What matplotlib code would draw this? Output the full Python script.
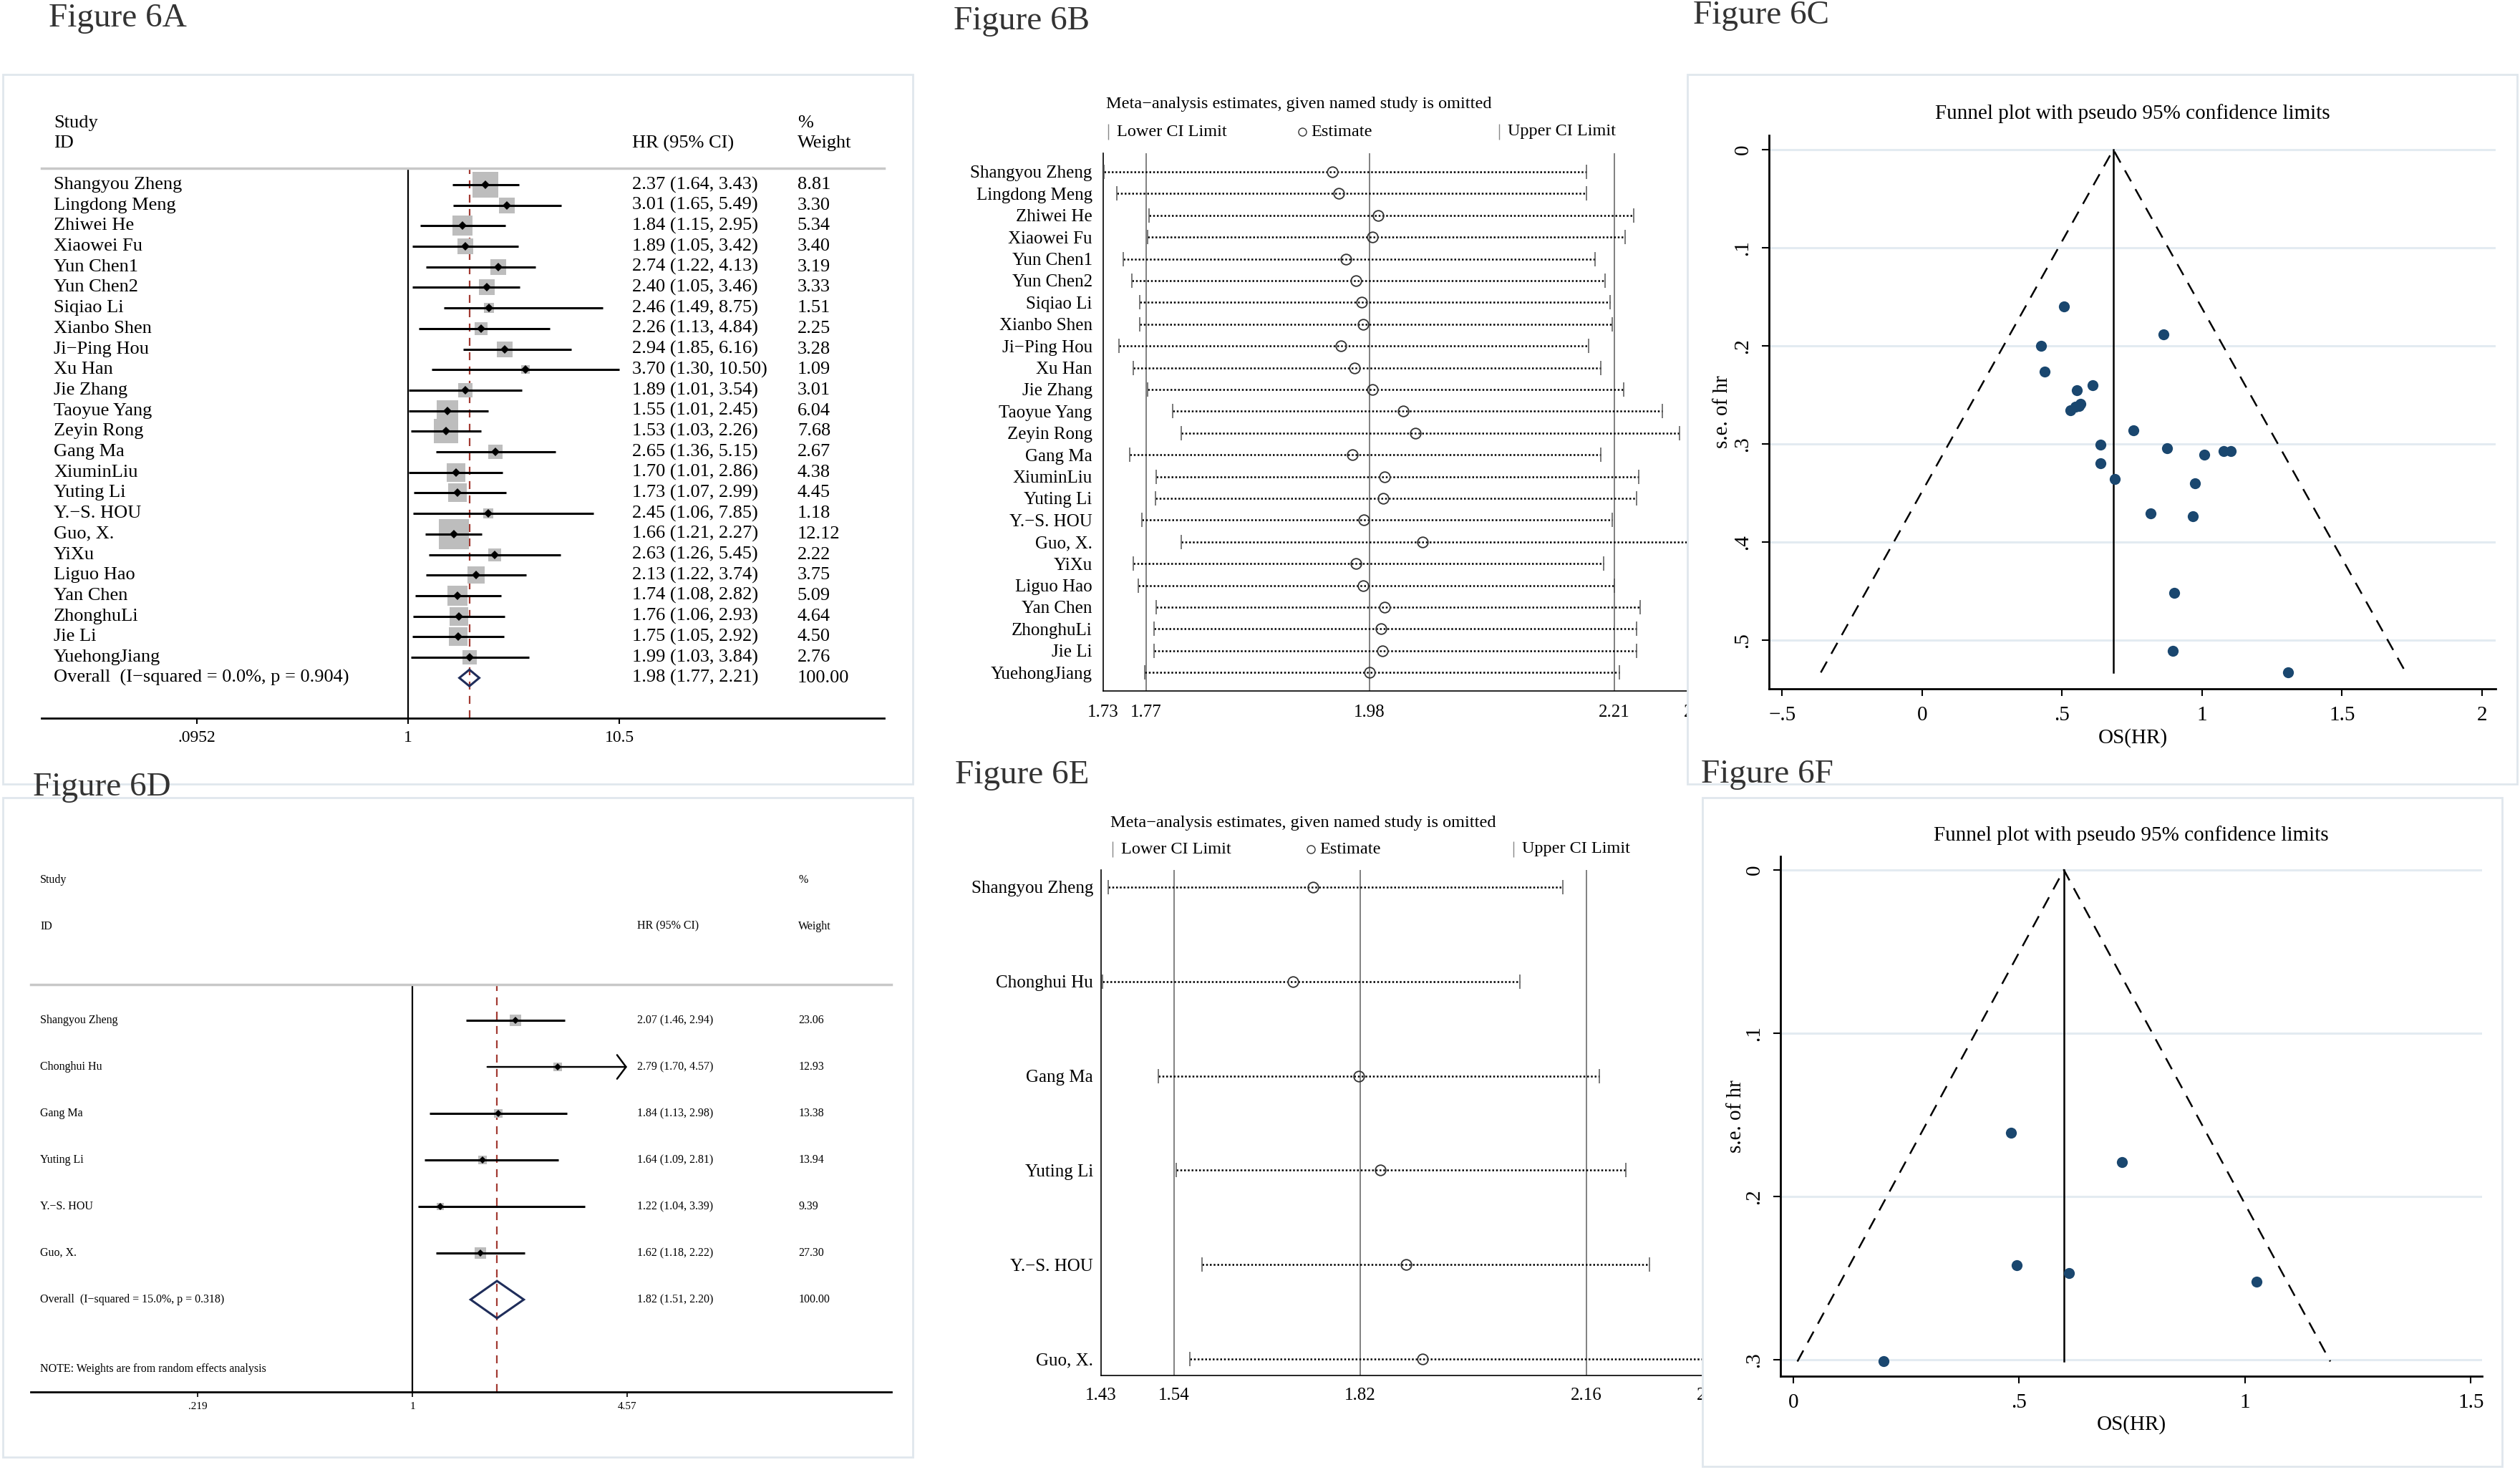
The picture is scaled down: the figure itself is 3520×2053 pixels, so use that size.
import numpy as np
import matplotlib
matplotlib.use("Agg")
import matplotlib.pyplot as plt
from matplotlib import transforms
from matplotlib.lines import Line2D
from matplotlib.patches import Rectangle, Polygon
from matplotlib.ticker import NullLocator

plt.rcParams['font.family'] = ['Liberation Serif', 'DejaVu Serif']
plt.rcParams['axes.unicode_minus'] = True

# ---------------- data ----------------
# Figure 6A: forest plot, all studies
studies_a = ["Shangyou Zheng", "Lingdong Meng", "Zhiwei He", "Xiaowei Fu", "Yun Chen1", "Yun Chen2",
             "Siqiao Li", "Xianbo Shen", "Ji\u2212Ping Hou", "Xu Han", "Jie Zhang", "Taoyue Yang",
             "Zeyin Rong", "Gang Ma", "XiuminLiu", "Yuting Li", "Y.\u2212S. HOU", "Guo, X.", "YiXu",
             "Liguo Hao", "Yan Chen", "ZhonghuLi", "Jie Li", "YuehongJiang"]
hr_a = [2.37, 3.01, 1.84, 1.89, 2.74, 2.40, 2.46, 2.26, 2.94, 3.70, 1.89, 1.55,
        1.53, 2.65, 1.70, 1.73, 2.45, 1.66, 2.63, 2.13, 1.74, 1.76, 1.75, 1.99]
lo_a = [1.64, 1.65, 1.15, 1.05, 1.22, 1.05, 1.49, 1.13, 1.85, 1.30, 1.01, 1.01,
        1.03, 1.36, 1.01, 1.07, 1.06, 1.21, 1.26, 1.22, 1.08, 1.06, 1.05, 1.03]
hi_a = [3.43, 5.49, 2.95, 3.42, 4.13, 3.46, 8.75, 4.84, 6.16, 10.50, 3.54, 2.45,
        2.26, 5.15, 2.86, 2.99, 7.85, 2.27, 5.45, 3.74, 2.82, 2.93, 2.92, 3.84]
wt_a = [8.81, 3.30, 5.34, 3.40, 3.19, 3.33, 1.51, 2.25, 3.28, 1.09, 3.01, 6.04,
        7.68, 2.67, 4.38, 4.45, 1.18, 12.12, 2.22, 3.75, 5.09, 4.64, 4.50, 2.76]
overall_a = [1.98, 1.77, 2.21]
overall_a_label = "Overall  (I\u2212squared = 0.0%, p = 0.904)"
ticks_a = [0.0952, 1, 10.5]
ticklabels_a = [".0952", "1", "10.5"]

# Figure 6B: influence analysis, all studies
lower_b = [1.731, 1.743, 1.773, 1.772, 1.749, 1.757, 1.764, 1.764, 1.745, 1.758, 1.772, 1.795,
           1.803, 1.755, 1.780, 1.779, 1.766, 1.803, 1.758, 1.763, 1.780, 1.778, 1.778, 1.769]
est_b = [1.945, 1.951, 1.988, 1.983, 1.958, 1.967, 1.973, 1.974, 1.953, 1.966, 1.983, 2.012,
         2.023, 1.964, 1.994, 1.993, 1.975, 2.030, 1.967, 1.974, 1.994, 1.991, 1.992, 1.980]
upper_b = [2.184, 2.184, 2.228, 2.220, 2.192, 2.201, 2.206, 2.208, 2.186, 2.197, 2.219, 2.255,
           2.271, 2.197, 2.233, 2.231, 2.208, 2.300, 2.200, 2.210, 2.234, 2.231, 2.231, 2.215]
ref_b = [1.77, 1.98, 2.21]
ticks_b = [1.73, 1.77, 1.98, 2.21, 2.29]

# Figure 6C: funnel plot, all studies
x_c = [0.863, 1.102, 0.610, 0.637, 1.008, 0.875, 0.900, 0.815, 1.078, 1.308, 0.637, 0.438,
       0.425, 0.975, 0.531, 0.548, 0.896, 0.507, 0.967, 0.756, 0.554, 0.565, 0.560, 0.688]
se_c = [0.188, 0.307, 0.240, 0.301, 0.311, 0.304, 0.452, 0.371, 0.307, 0.533, 0.320, 0.226,
        0.200, 0.340, 0.266, 0.262, 0.511, 0.160, 0.374, 0.286, 0.245, 0.259, 0.261, 0.336]
funnel_c = [-0.362, 0.683, 1.728, 0.533]  # left, centre, right, max se

# Figure 6D: forest plot, subgroup
studies_d = ["Shangyou Zheng", "Chonghui Hu", "Gang Ma", "Yuting Li", "Y.\u2212S. HOU", "Guo, X."]
hr_d = [2.07, 2.79, 1.84, 1.64, 1.22, 1.62]
lo_d = [1.46, 1.70, 1.13, 1.09, 1.04, 1.18]
hi_d = [2.94, 4.57, 2.98, 2.81, 3.39, 2.22]
wt_d = [23.06, 12.93, 13.38, 13.94, 9.39, 27.30]
overall_d = [1.82, 1.51, 2.20]
overall_d_label = "Overall  (I\u2212squared = 15.0%, p = 0.318)"
ticks_d = [0.219, 1, 4.57]
ticklabels_d = [".219", "1", "4.57"]

# Figure 6E: influence analysis, subgroup
lower_e = [1.441, 1.432, 1.516, 1.543, 1.582, 1.564]
est_e = [1.749, 1.719, 1.818, 1.850, 1.889, 1.914]
upper_e = [2.125, 2.060, 2.180, 2.220, 2.255, 2.400]
ref_e = [1.54, 1.82, 2.16]
ticks_e = [1.43, 1.54, 1.82, 2.16, 2.35]

# Figure 6F: funnel plot, subgroup
x_f = [0.728, 1.026, 0.610, 0.495, 0.199, 0.482]
se_f = [0.179, 0.252, 0.247, 0.242, 0.301, 0.161]
funnel_f = [0.009, 0.599, 1.189, 0.301]

# ---------------- figure ----------------
W, H = 3520, 2053
fig = plt.figure(figsize=(W / 100, H / 100), dpi=100)
fig.patch.set_facecolor('white')

NAVY = '#1a476f'
RED = '#a23a32'
BOX = '#bdbdbd'
FRAME = '#e0e7ed'
GRID = '#e3ebf1'


def add_ax(x0, y0, x1, y1, z=0):
    ax = fig.add_axes([x0 / W, 1 - y1 / H, (x1 - x0) / W, (y1 - y0) / H], zorder=z)
    ax.patch.set_visible(False)
    return ax


def frame(x0, y0, x1, y1, z):
    fig.add_artist(Rectangle((x0 / W, 1 - y1 / H), (x1 - x0) / W, (y1 - y0) / H,
                             transform=fig.transFigure, facecolor='white',
                             edgecolor=FRAME, lw=2, zorder=z))


def ftext(x, y, s, **kw):
    fig.text(x / W, 1 - y / H, s, **kw)


def fmark(x, y, **kw):
    fig.add_artist(Line2D([x / W], [1 - y / H], transform=fig.transFigure, **kw))


frame(4, 104, 1275, 1095, -1)
frame(4, 1114, 1275, 2035, -1)
frame(2357, 104, 3516, 1095, 1)
frame(2378, 1114, 3495, 2048, 1)

title_kw = dict(fontsize=34, color='#333333', va='center', ha='left', zorder=5)
ftext(68, 26, "Figure 6A", **title_kw)
ftext(1332, 30, "Figure 6B", **title_kw)
ftext(2365, 22, "Figure 6C", **title_kw)
ftext(46, 1100, "Figure 6D", **title_kw)
ftext(1334, 1083, "Figure 6E", **title_kw)
ftext(2376, 1082, "Figure 6F", **title_kw)


def forest(ax, names, hr, lo, hi, wt, overall, olabel, ticks, tlabels, xl, fs, box_k,
           dmark, lw, ylim, head_rows, cols, oh, note=None, clip_hi=None):
    ax.set_xscale('log')
    ax.set_xlim(*xl)
    ax.set_ylim(*ylim)
    T = transforms.blended_transform_factory(ax.transAxes, ax.transData)
    for i in range(len(names)):
        top = hi[i] if clip_hi is None else min(hi[i], clip_hi)
        if clip_hi is not None and hi[i] >= clip_hi:
            ax.annotate('', xy=(top, i), xytext=(lo[i], i),
                        arrowprops=dict(arrowstyle='->,head_length=0.45,head_width=0.6',
                                        lw=lw * 0.8, color='black', mutation_scale=20,
                                        shrinkA=0, shrinkB=0), zorder=3)
        else:
            ax.plot([lo[i], top], [i, i], color='black', lw=lw, zorder=3, solid_capstyle='butt')
        ax.plot(hr[i], i, marker='s', ms=box_k * np.sqrt(wt[i]), color=BOX, mew=0, zorder=2)
        ax.plot(hr[i], i, marker='D', ms=dmark, color='black', mew=0, zorder=4)
        ax.text(cols[0], i, names[i], transform=T, va='center', ha='left', fontsize=fs)
        ax.text(cols[1], i, "{:.2f} ({:.2f}, {:.2f})".format(hr[i], lo[i], hi[i]),
                transform=T, va='center', ha='left', fontsize=fs)
        ax.text(cols[2], i, "{:.2f}".format(wt[i]), transform=T, va='center', ha='left', fontsize=fs)
    k = len(names)
    ax.add_patch(Polygon([(overall[1], k), (overall[0], k - oh), (overall[2], k), (overall[0], k + oh)],
                         closed=True, fill=False, edgecolor='#1f2d5a', lw=lw, zorder=4))
    ax.text(cols[0], k, olabel, transform=T, va='center', ha='left', fontsize=fs)
    ax.text(cols[1], k, "{:.2f} ({:.2f}, {:.2f})".format(*overall), transform=T,
            va='center', ha='left', fontsize=fs)
    ax.text(cols[2], k, "100.00", transform=T, va='center', ha='left', fontsize=fs)
    if note:
        ax.text(cols[0], note[0], note[1], transform=T, va='center', ha='left', fontsize=fs)
    ax.text(cols[0], head_rows[0], "Study", transform=T, va='center', ha='left', fontsize=fs)
    ax.text(cols[0], head_rows[1], "ID", transform=T, va='center', ha='left', fontsize=fs)
    ax.text(cols[1], head_rows[1], "HR (95% CI)", transform=T, va='center', ha='left', fontsize=fs)
    ax.text(cols[2], head_rows[0], "%", transform=T, va='center', ha='left', fontsize=fs)
    ax.text(cols[2], head_rows[1], "Weight", transform=T, va='center', ha='left', fontsize=fs)
    ax.axvline(1, color='black', lw=1.6, zorder=1)
    ax.axvline(overall[0], color=RED, lw=1.6, ls=(0, (5, 4)), zorder=1)
    for s in ['left', 'right']:
        ax.spines[s].set_visible(False)
    ax.spines['top'].set_color('#c8c8c8')
    ax.spines['top'].set_linewidth(2.5)
    ax.spines['bottom'].set_linewidth(2)
    ax.set_xticks(ticks)
    ax.set_xticklabels(tlabels)
    ax.xaxis.set_minor_locator(NullLocator())
    ax.set_yticks([])


# ---- 6A ----
axA = add_ax(58, 235, 1235, 1003)
forest(axA, studies_a, hr_a, lo_a, hi_a, wt_a, overall_a, overall_a_label, ticks_a, ticklabels_a,
       (np.exp(-4.08), np.exp(5.30)), 19, 8.64, 6, 2.2, (25.96, -0.80), (-3.0, -2.02),
       (0.0144, 0.701, 0.897), 0.40)
axA.tick_params(axis='x', length=6, width=1.5, labelsize=17, pad=6)

# ---- 6D ----
axD = add_ax(43, 1375, 1245, 1944)
forest(axD, studies_d, hr_d, lo_d, hi_d, wt_d, overall_d, overall_d_label, ticks_d, ticklabels_d,
       (np.exp(-2.70), np.exp(3.389)), 11.5, 2.25, 5, 2.2, (7.985, -0.77), (-3.02, -2.02),
       (0.0108, 0.705, 0.892), 0.40, note=(7.5, "NOTE: Weights are from random effects analysis"),
       clip_hi=4.57)
axD.tick_params(axis='x', length=5, width=1.2, labelsize=11, pad=5)


# ---- influence plots ----
def influence(ax, names, lo, est, up, refs, ticks, xl, ylim, fs, ypad, xpad):
    ax.set_xlim(*xl)
    ax.set_ylim(*ylim)
    for r in refs:
        ax.axvline(r, color='#808080', lw=1.4, zorder=1)
    for i in range(len(names)):
        ax.plot([lo[i], up[i]], [i, i], ls=(0, (1, 1.1)), color='black', lw=1.8, zorder=2)
        ax.plot([lo[i], up[i]], [i, i], ls='none', marker='|', ms=15, mew=1.1, color='#555555', zorder=3)
        ax.plot(est[i], i, marker='o', ms=10.5, mfc='none', mec='#333333', mew=1.3, zorder=4)
    ax.set_yticks(range(len(names)))
    ax.set_yticklabels(names)
    ax.set_xticks(ticks)
    ax.set_xticklabels(["{:.2f}".format(t) for t in ticks])
    ax.tick_params(axis='y', length=0, labelsize=fs, pad=ypad)
    ax.tick_params(axis='x', length=0, labelsize=fs, pad=xpad)
    for s in ['top', 'right']:
        ax.spines[s].set_visible(False)
    ax.spines['left'].set_linewidth(1.2)
    ax.spines['bottom'].set_linewidth(1.2)


def influence_header(x0, y_title, y_leg, xs):
    ftext(x0, y_title, "Meta\u2212analysis estimates, given named study is omitted", fontsize=17.5,
          va='center', ha='left')
    fmark(xs[0], y_leg, marker='|', ms=16, mew=1, color='#888888')
    ftext(xs[0] + 12, y_leg, "Lower CI Limit", fontsize=17.5, va='center', ha='left')
    fmark(xs[1], y_leg, marker='o', ms=8, mfc='white', mec='#333333', mew=1)
    ftext(xs[1] + 12, y_leg, "Estimate", fontsize=17.5, va='center', ha='left')
    fmark(xs[2], y_leg, marker='|', ms=16, mew=1, color='#888888')
    ftext(xs[2] + 12, y_leg, "Upper CI Limit", fontsize=17.5, va='center', ha='left')


axB = add_ax(1541, 214, 2374, 965)
influence(axB, studies_a, lower_b, est_b, upper_b, ref_b, ticks_b, (1.73, 2.29),
          (23.85, -0.855), 18, 11, 14)
influence_header(1545, 145, 184, (1548, 1819, 2094))

axE = add_ax(1538, 1215, 2392, 1921)
influence(axE, studies_d, lower_e, est_e, upper_e, ref_e, ticks_e, (1.43, 2.35),
          (5.175, -0.182), 18, 8, 12)
influence_header(1551, 1150, 1186, (1554, 1831, 2114))


# ---- funnel plots ----
def funnel(ax, x, se, fl, xl, yl, xticks, xlabels, yticks, ylabels):
    ax.set_xlim(*xl)
    ax.set_ylim(*yl)
    for y in yticks:
        ax.axhline(y, color=GRID, lw=2.2, zorder=0)
    ax.plot([fl[1], fl[1]], [0, fl[3]], color='black', lw=1.8, zorder=2)
    ax.plot([fl[0], fl[1], fl[2]], [fl[3], 0, fl[3]], color='black', lw=1.8,
            dashes=(7, 5), zorder=2)
    ax.plot(x, se, 'o', ms=11, color=NAVY, mew=0, zorder=3)
    ax.set_xticks(xticks)
    ax.set_xticklabels(xlabels)
    ax.set_yticks(yticks)
    ax.set_yticklabels(ylabels)
    ax.tick_params(axis='both', length=7, width=1.5, labelsize=21, pad=10)
    ax.tick_params(axis='y', labelrotation=90)
    for lab in ax.get_yticklabels():
        lab.set_va('center')
    for s in ['top', 'right']:
        ax.spines[s].set_visible(False)
    ax.spines['left'].set_linewidth(2)
    ax.spines['bottom'].set_linewidth(2)


axC = add_ax(2471, 189, 3486, 962, z=2)
funnel(axC, x_c, se_c, funnel_c, (-0.547, 2.049), (0.5496, -0.0146),
       [-0.5, 0, 0.5, 1, 1.5, 2], ["\u2212.5", "0", ".5", "1", "1.5", "2"],
       [0, 0.1, 0.2, 0.3, 0.4, 0.5], ["0", ".1", ".2", ".3", ".4", ".5"])
ftext(2979, 159, "Funnel plot with pseudo 95% confidence limits", fontsize=21, ha='center', va='center', zorder=5)
ftext(2406, 575, "s.e. of hr", fontsize=21, rotation=90, ha='center', va='center', zorder=5)
ftext(2979, 1031, "OS(HR)", fontsize=21, ha='center', va='center', zorder=5)

axF = add_ax(2487, 1196, 3467, 1922, z=2)
funnel(axF, x_f, se_f, funnel_f, (-0.0285, 1.525), (0.310, -0.0083),
       [0, 0.5, 1, 1.5], ["0", ".5", "1", "1.5"],
       [0, 0.1, 0.2, 0.3], ["0", ".1", ".2", ".3"])
ftext(2977, 1167, "Funnel plot with pseudo 95% confidence limits", fontsize=21, ha='center', va='center', zorder=5)
ftext(2425, 1559, "s.e. of hr", fontsize=21, rotation=90, ha='center', va='center', zorder=5)
ftext(2977, 1990, "OS(HR)", fontsize=21, ha='center', va='center', zorder=5)

fig.savefig("out.png", dpi=100, facecolor='white')
